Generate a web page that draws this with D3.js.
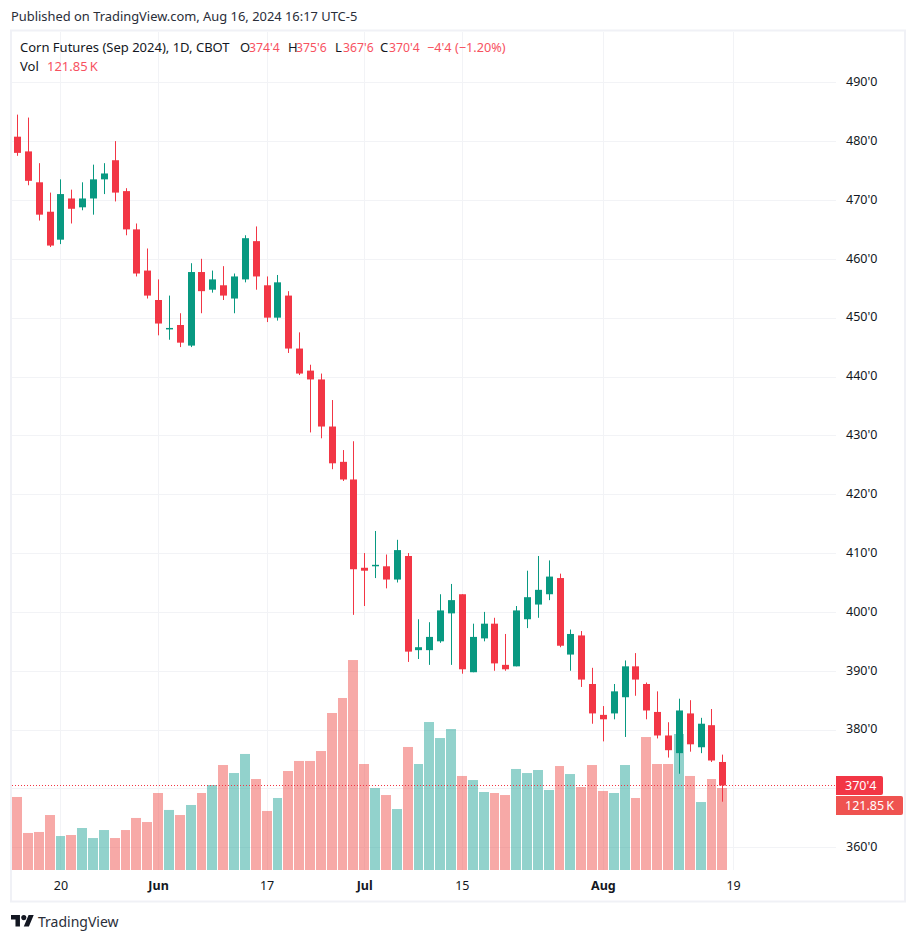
<!DOCTYPE html>
<html>
<head>
<meta charset="utf-8">
<script src="https://cdn.jsdelivr.net/npm/d3@7/dist/d3.min.js"></script>
<style>
  body { margin: 0; background: #fff; }
  text { font-family: "Noto Sans", sans-serif; fill: #131722; }
</style>
</head>
<body>
<svg id="chart" width="916" height="941"></svg>
<script>
// trading days shown, last entry is the empty slot after the final candle
let DATES = ["May 14","May 15","May 16","May 17","May 20","May 21","May 22","May 23","May 24","May 28","May 29","May 30","May 31",
  "Jun 3","Jun 4","Jun 5","Jun 6","Jun 7","Jun 10","Jun 11","Jun 12","Jun 13","Jun 14","Jun 17","Jun 18","Jun 20","Jun 21",
  "Jun 24","Jun 25","Jun 26","Jun 27","Jun 28","Jul 1","Jul 2","Jul 3","Jul 5","Jul 8","Jul 9","Jul 10","Jul 11","Jul 12",
  "Jul 15","Jul 16","Jul 17","Jul 18","Jul 19","Jul 22","Jul 23","Jul 24","Jul 25","Jul 26","Jul 29","Jul 30","Jul 31",
  "Aug 1","Aug 2","Aug 5","Aug 6","Aug 7","Aug 8","Aug 9","Aug 12","Aug 13","Aug 14","Aug 15","Aug 16","Aug 19"];

let OPENS = [480.75,478.25,473,468,463.25,470.25,468.75,470.25,473.5,476.75,471.5,465,458,453,448,448.75,445.25,457.75,454.75,455.5,453.25,456.5,463,
  455.5,450,453.75,444.75,441,439.5,431.5,425.5,422.5,407.5,407.75,407.75,405.5,409.5,393.5,393.5,395,399.75,403,389.75,395.5,398,391,390.75,
  398.75,401.25,403,405.75,392.75,396,387.75,382.5,382.75,385.5,390.75,387.75,383,379,376,382.75,377,380.75,374.5];
let HIGHS = [484.5,484,476.25,471.25,473.5,471.75,473,476,476.25,480,472,466,461.75,456.5,453.75,450.75,459.25,460,458,458.75,457.5,464,465.5,
  457,457.25,454.5,447.5,442,440.5,436,427.5,429,410,413.75,409.75,412.25,410,398.75,398.25,403,404.75,403,398,400,399,396.25,401,
  407,409.5,408.75,406.5,397,396.75,390.5,384,387.75,391.75,393,388,386.5,381.25,385.25,385,382,383.5,375.75];
let LOWS = [477.5,472.5,466.5,462,462.5,466,468.25,467.5,471,469.75,464,457,453.25,447,446.25,445,445,450.75,454.25,453,450.75,456,454.75,
  449.25,449.5,444,440.25,430.5,429.5,424.25,422.25,399.5,401,405.75,404,405,391.5,392,391,394.75,391,389.5,389.75,395,390,390,390.75,
  397.25,399,402,394,390,387.25,381,378,381.75,378.75,385.75,381.75,378.5,375.25,372.5,376.25,376,374.5,367.75];
let CLOSES = [478,473.25,467.5,462.25,471,468.5,470.25,473.5,474.5,471.25,465,457.5,453.75,449,448.25,445.75,457.75,454.5,456.5,453.75,457,463.5,457,
  450,456,444.75,440.5,439.5,431.5,425.25,422.5,407.25,407,408,405.5,410.5,393.25,394,395.75,400.25,402,390.25,395.75,398,391.25,390.25,400.25,
  402.5,403.75,406,394.25,396.25,388.5,382.75,381.75,386.5,390.75,388.5,383.25,379,376.5,383.25,377.5,381,374.75,370.5];
// volume in thousands of contracts
let VOLUMES = [108.5,55,56.5,81.7,50.5,52,62.4,47.5,59.4,47.5,59.4,77.3,71.3,114.4,89.2,81.7,96.6,114.4,126.3,156,144.1,172.4,135.2,
  87.7,107,147.1,162,162,176.8,233.3,255.6,312,157.5,121.8,111.4,90.6,182.8,157.5,219.9,196.1,209.5,139.7,133.7,115.9,114.4,111.4,150.1,
  144.1,148.6,118.9,154.5,142.6,123.3,156,117.4,114.4,156,107,197.6,157.5,157.5,202.1,139.7,101,135.2,121.85];

let PRICE_TICKS = [360,370,380,390,400,410,420,430,440,450,460,470,480,490];
// 370 has a grid line but its label sits behind the last price tag
let PRICE_LABELS = [360,380,390,400,410,420,430,440,450,460,470,480,490];
let TIME_TICKS = ["May 20","Jun 3","Jun 17","Jul 1","Jul 15","Aug 1","Aug 19"];
let TIME_LABELS = ["20","Jun","17","Jul","15","Aug","19"];
let BOLD_LABELS = ["Jun","Jul","Aug"];

let LAST_CLOSE = 370.5;
let LAST_CLOSE_LABEL = "370'4";
let LAST_VOL_LABEL = "121.85\u2009K";

let RED = "#F23645";
let GREEN = "#089981";
let GRID = "#F2F3F6";

let svg = d3.select("#chart");

let x = d3.scalePoint().domain(DATES).range([17.5, 733.6]);
let y = d3.scaleLinear().domain([360, 490]).range([847.3, 82.25]);
let yVol = d3.scaleLinear().domain([0, 121.85]).range([870, 788]);

let candles = DATES.slice(0, OPENS.length).map((date, i) => ({
  date, open: OPENS[i], high: HIGHS[i], low: LOWS[i], close: CLOSES[i], vol: VOLUMES[i], up: CLOSES[i] >= OPENS[i]
}));
let snap = (v) => Math.round(v - 0.5);
let barLeft = (date) => Math.round(x(date) - 5.4);

svg.append("rect").attr("width", 916).attr("height", 941).attr("fill", "#fff");

// grid
svg.append("g").selectAll("line").data(PRICE_TICKS).enter().append("line")
  .attr("x1", 12).attr("x2", 836)
  .attr("y1", (d) => Math.round(y(d)) + 0.5).attr("y2", (d) => Math.round(y(d)) + 0.5)
  .attr("stroke", GRID);
svg.append("g").selectAll("line").data(TIME_TICKS).enter().append("line")
  .attr("x1", (d) => snap(x(d)) + 0.5).attr("x2", (d) => snap(x(d)) + 0.5)
  .attr("y1", 32).attr("y2", 870)
  .attr("stroke", GRID);

// frame
svg.append("rect").attr("x", 11).attr("y", 30.5).attr("width", 894).attr("height", 871)
  .attr("fill", "none").attr("stroke", "#F0F1F6").attr("stroke-width", 2);

// volume
svg.append("g").selectAll("rect").data(candles).enter().append("rect")
  .attr("x", (d) => barLeft(d.date))
  .attr("width", (d, i) => i + 1 < DATES.length ? barLeft(DATES[i + 1]) - barLeft(d.date) - 1 : 10)
  .attr("y", (d) => yVol(d.vol))
  .attr("height", (d) => 870 - yVol(d.vol))
  .attr("fill", (d) => d.up ? "#26A69A" : "#EF5350")
  .attr("fill-opacity", 0.5);

// last price line
svg.append("line").attr("x1", 12).attr("x2", 836)
  .attr("y1", y(LAST_CLOSE)).attr("y2", y(LAST_CLOSE))
  .attr("stroke", RED).attr("stroke-dasharray", "1 2");

// candles
let candle = svg.append("g").selectAll("g").data(candles).enter().append("g")
  .attr("fill", (d) => d.up ? GREEN : RED);
candle.append("rect")
  .attr("x", (d) => snap(x(d.date)))
  .attr("width", 1)
  .attr("y", (d) => y(d.high))
  .attr("height", (d) => y(d.low) - y(d.high));
candle.append("rect")
  .attr("x", (d) => snap(x(d.date)) - 3)
  .attr("width", 7)
  .attr("y", (d) => y(Math.max(d.open, d.close)))
  .attr("height", (d) => Math.max(1, Math.abs(y(d.open) - y(d.close))));

// price axis
let yAxis = svg.append("g").attr("transform", "translate(836,-0.7)")
  .call(d3.axisRight(y).tickValues(PRICE_LABELS).tickFormat((d) => `${d}'0`).tickSize(0).tickPadding(10));
yAxis.select(".domain").remove();
yAxis.selectAll("text").style("font-family", '"Noto Sans", sans-serif').style("font-size", "12.5px").attr("fill", "#131722");

// time axis
let xAxis = svg.append("g").attr("transform", "translate(-0.5,878)")
  .call(d3.axisBottom(x).tickValues(TIME_TICKS).tickFormat((d, i) => TIME_LABELS[i]).tickSize(0).tickPadding(3));
xAxis.select(".domain").remove();
xAxis.selectAll("text")
  .style("font-family", '"Noto Sans", sans-serif').style("font-size", "12.5px")
  .style("font-weight", (d, i) => BOLD_LABELS.includes(TIME_LABELS[i]) ? 700 : 400)
  .attr("fill", "#131722");

// last value tags
let tag = (top, w, h, color, label) => {
  svg.append("path")
    .attr("d", `M836,${top}h${w - 2}a2,2 0 0 1 2,2v${h - 4}a2,2 0 0 1 -2,2h${-(w - 2)}z`)
    .attr("fill", color);
  svg.append("text").attr("x", 845).attr("y", top + h / 2 + 4.5)
    .attr("font-size", 12.5).style("fill", "#fff").text(label);
};
tag(776, 47, 19, RED, LAST_CLOSE_LABEL);
tag(796, 67, 19, "#EF5350", LAST_VOL_LABEL);

// header
let addText = (tx, ty, size, label, color) => svg.append("text")
  .attr("x", tx).attr("y", ty).attr("font-size", size).style("fill", color || "#131722").text(label);
let HEAD_RED = "#F7525F";

addText(11, 21, 12.9, "Published on TradingView.com, Aug 16, 2024 16:17 UTC-5", "#2A2E39");
addText(20, 52, 13, "Corn Futures (Sep 2024), 1D, CBOT");
addText(240, 52, 13, "O");
addText(249, 52, 12.2, "374'4", HEAD_RED);
addText(288, 52, 13, "H");
addText(296, 52, 12.2, "375'6", HEAD_RED);
addText(335, 52, 13, "L");
addText(343, 52, 12.2, "367'6", HEAD_RED);
addText(380, 52, 13, "C");
addText(389, 52, 12.2, "370'4", HEAD_RED);
addText(427, 52, 12.7, "\u22124'4 (\u22121.20%)", HEAD_RED);
addText(20, 71, 13, "Vol");
addText(47, 71, 13, "121.85\u2009K", HEAD_RED);

// logo
let logo = svg.append("g").attr("transform", "translate(11,912.5) scale(0.64)").attr("fill", "#131722");
logo.append("path").attr("d", "M14 22H7V11H0V4h14v18zM28 22h-8l7.5-18h8L28 22z");
logo.append("circle").attr("cx", 20).attr("cy", 8).attr("r", 4);
addText(38, 926.5, 14, "TradingView", "#2A2E39");
</script>
</body>
</html>
